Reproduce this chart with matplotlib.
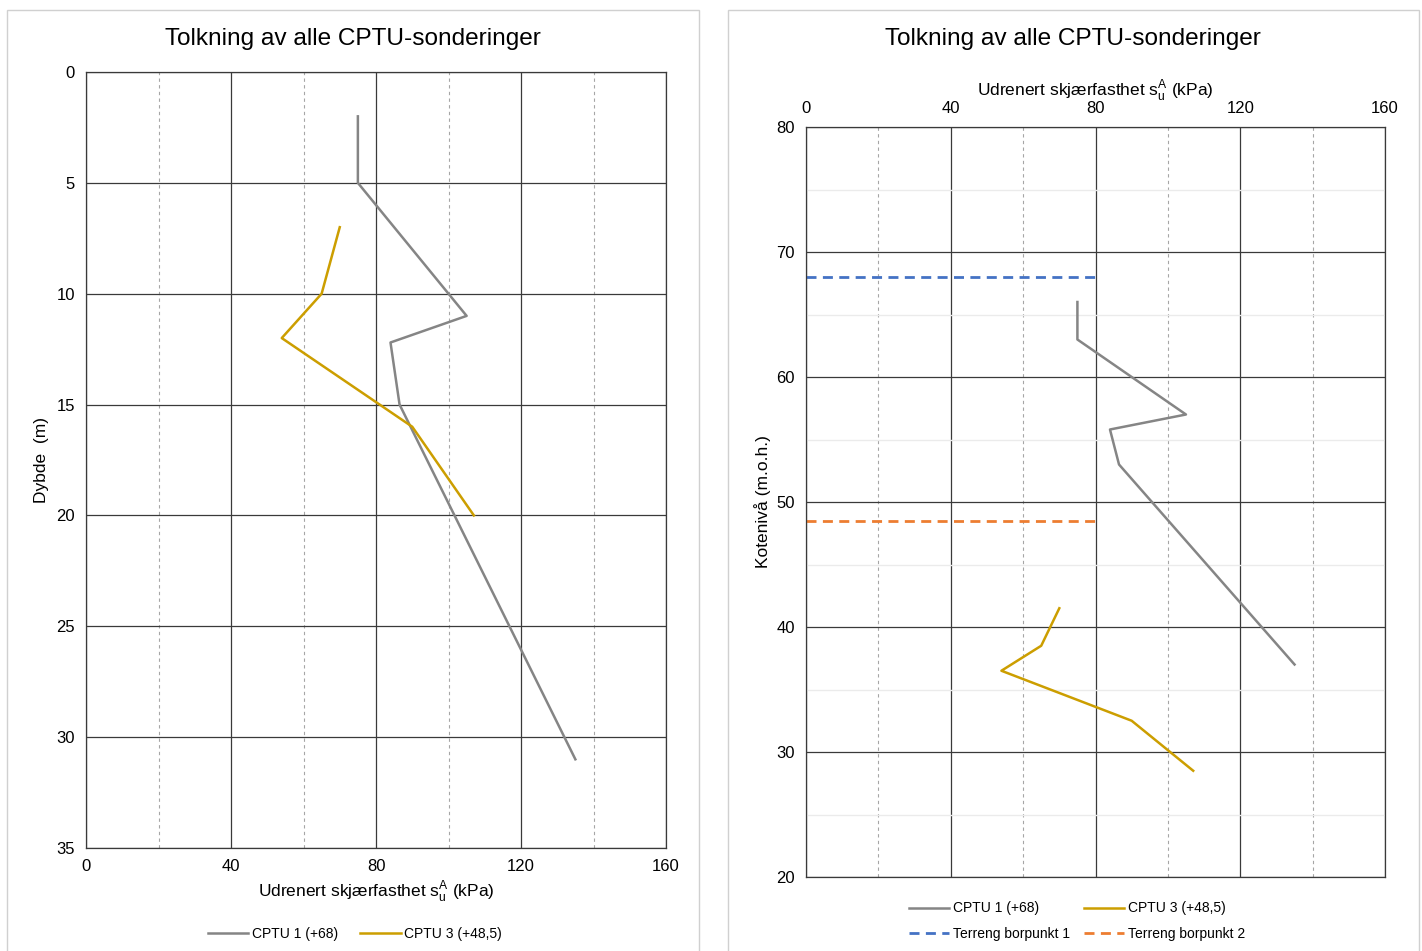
import matplotlib
matplotlib.use("Agg")
import matplotlib.pyplot as plt
from matplotlib.patches import Rectangle
from matplotlib.ticker import MultipleLocator

plt.rcParams['font.family'] = ['Liberation Sans', 'DejaVu Sans']

# ---- data ----
title = "Tolkning av alle CPTU-sonderinger"
cptu1_su = [75, 75, 105, 84, 86.5, 135]
cptu1_depth = [2, 5, 11, 12.2, 15, 31]
cptu1_top = 68.0
cptu3_su = [70, 65, 54, 90, 107]
cptu3_depth = [7, 10, 12, 16, 20]
cptu3_top = 48.5
terreng_levels = [68.0, 48.5]
terreng_su = [0, 80]
label1 = "CPTU 1 (+68)"
label3 = "CPTU 3 (+48,5)"
terreng_labels = ["Terreng borpunkt 1", "Terreng borpunkt 2"]

c_gray = "#858585"
c_gold = "#CC9E00"
c_blue = "#4472C4"
c_orange = "#ED7D31"
grid_major = "#3a3a3a"
grid_minor = "#a6a6a6"

W, H = 1422, 951
fig = plt.figure(figsize=(W / 100, H / 100), dpi=100)

# panel borders
for x0, x1 in [(7, 699), (728, 1419)]:
    fig.add_artist(Rectangle((x0 / W, -0.01), (x1 - x0) / W, 1 - 10 / H + 0.01,
                             transform=fig.transFigure, fill=False,
                             edgecolor="#d0d0d0", linewidth=1.0))

def style(ax):
    ax.xaxis.set_major_locator(MultipleLocator(40))
    ax.xaxis.set_minor_locator(MultipleLocator(20))
    ax.grid(which='major', color=grid_major, linewidth=0.9, linestyle='-')
    ax.grid(which='minor', axis='x', color=grid_minor, linewidth=0.8,
            linestyle=(0, (3, 3)))
    ax.tick_params(which='both', length=0, labelsize=12, pad=8)
    for s in ax.spines.values():
        s.set_color(grid_major)
        s.set_linewidth(0.9)
    ax.set_axisbelow(True)

xlabel = r"Udrenert skjærfasthet s$_\mathregular{u}^\mathregular{A}$ (kPa)"

# ---- left panel ----
ax1 = fig.add_axes([86 / W, 1 - 848 / H, 580 / W, 776 / H])
ax1.plot(cptu1_su, cptu1_depth, color=c_gray, lw=1.8, label=label1)
ax1.plot(cptu3_su, cptu3_depth, color=c_gold, lw=1.8, label=label3)
ax1.set_xlim(0, 160)
ax1.set_ylim(35, 0)
ax1.yaxis.set_major_locator(MultipleLocator(5))
style(ax1)
ax1.set_xlabel(xlabel, fontsize=12.5, labelpad=3)
ax1.set_ylabel("Dybde  (m)", fontsize=12.5, labelpad=5)
fig.text(353 / W, 1 - 39 / H, title, ha='center', va='center', fontsize=17.6)
fig.legend(handles=ax1.get_lines(), loc='center', bbox_to_anchor=(355 / W, 1 - 934 / H),
           ncol=2, frameon=False, fontsize=10, handlelength=2.9,
           handletextpad=0.25, columnspacing=1.6)

# ---- right panel ----
ax2 = fig.add_axes([806 / W, 1 - 877 / H, 579 / W, 750 / H])
elev1 = [cptu1_top - d for d in cptu1_depth]
elev3 = [cptu3_top - d for d in cptu3_depth]
l1, = ax2.plot(cptu1_su, elev1, color=c_gray, lw=1.8, label=label1)
l3, = ax2.plot(cptu3_su, elev3, color=c_gold, lw=1.8, label=label3)
lt1, = ax2.plot(terreng_su, [terreng_levels[0]] * 2, color=c_blue, lw=2.0,
                linestyle=(0, (3.6, 2.3)), label=terreng_labels[0])
lt2, = ax2.plot(terreng_su, [terreng_levels[1]] * 2, color=c_orange, lw=2.0,
                linestyle=(0, (3.6, 2.3)), label=terreng_labels[1])
ax2.set_xlim(0, 160)
ax2.set_ylim(20, 80)
ax2.yaxis.set_major_locator(MultipleLocator(10))
ax2.yaxis.set_minor_locator(MultipleLocator(5))
style(ax2)
ax2.grid(which='minor', axis='y', color="#ebebeb", linewidth=1.0, linestyle='-')
ax2.xaxis.tick_top()
ax2.xaxis.set_label_position('top')
ax2.set_xlabel(xlabel, fontsize=12.5, labelpad=4)
ax2.set_ylabel("Kotenivå (m.o.h.)", fontsize=12.5, labelpad=4)
fig.text(1073 / W, 1 - 39 / H, title, ha='center', va='center', fontsize=17.6)
fig.legend(handles=[l1, lt1, l3, lt2], loc='center',
           bbox_to_anchor=(1077 / W, 1 - 921 / H), ncol=2, frameon=False,
           fontsize=10, handlelength=2.9, handletextpad=0.25, columnspacing=1.0,
           labelspacing=0.8)

fig.savefig("out.png", dpi=100)
